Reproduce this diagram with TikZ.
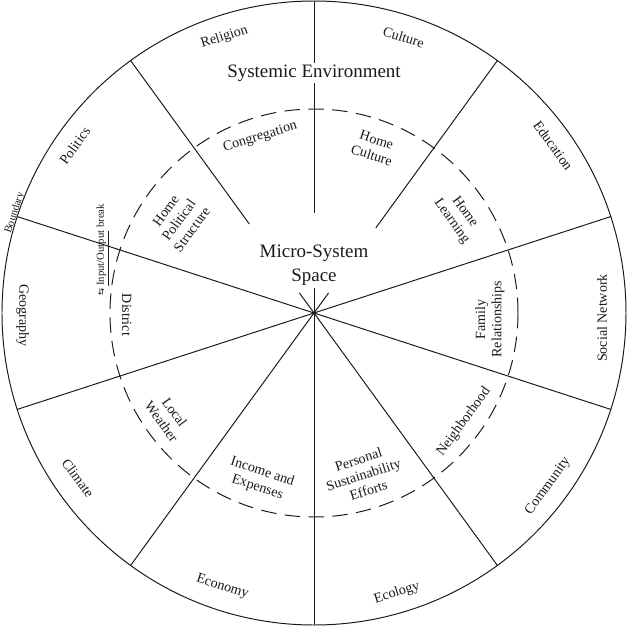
\documentclass[tikz,border=0pt]{standalone}
\usepackage{fontspec}
\setmainfont{Liberation Serif}
\newfontfamily\arrowfont{DejaVu Sans}
\definecolor{WheelInk}{HTML}{1A1A1A}

\begin{document}
\begin{tikzpicture}[
    spoke/.style={draw=WheelInk,line width=0.7pt},
    outerlbl/.style={text=WheelInk,font=\fontsize{10}{12}\selectfont,align=center},
    innerlbl/.style={text=WheelInk,font=\fontsize{10}{11.5}\selectfont,align=center},
    titlelbl/.style={text=WheelInk,font=\fontsize{13.5}{17}\selectfont,align=center},
    smalllbl/.style={text=WheelInk,font=\fontsize{7.6}{9}\selectfont,inner sep=1pt}
  ]
  \useasboundingbox (-7.85,-8.1) rectangle (8.0,7.825);

  % rim and dashed micro-system boundary
  \coordinate (hub) at (0,0);
  \node[circle,draw=WheelInk,line width=0.7pt,minimum size=15.6cm,inner sep=0pt] (rim) at (hub) {};
  \node[circle,draw=WheelInk,line width=0.7pt,dash pattern=on 11pt off 6pt,
        minimum size=10.2cm,inner sep=0pt] (micro) at (hub) {};

  % spokes
  \foreach \a in {18,162,198,234,270,306,342}
    \draw[spoke] (hub) -- (rim.\a);
  \foreach \a/\r in {54/2.63,90/2.5,126/2.75}{
    \draw[spoke] (rim.\a) -- (\a:\r);
    \draw[spoke] (\a:0.62) -- (hub);
  }

  % titles
  \node[titlelbl,fill=white,inner sep=1pt] (systemic) at (0,6.0) {Systemic Environment};
  \node[titlelbl] (space) at (0,1.2) {Micro-System\\Space};

  % outer ring
  \node[outerlbl,rotate=18]  (religion)  at (108:7.25) {Religion};
  \node[outerlbl,rotate=-18] (culture)   at (72:7.25)  {Culture};
  \node[outerlbl,rotate=-54] (education) at (35:7.3)   {Education};
  \node[outerlbl,rotate=90]  (social)    at (-1:7.2)   {Social Network};
  \node[outerlbl,rotate=54]  (community) at (-36.5:7.28) {Community};
  \node[outerlbl,rotate=18]  (ecology)   at (-73.5:7.3) {Ecology};
  \node[outerlbl,rotate=-18] (economy)   at (251.5:7.22) {Economy};
  \node[outerlbl,rotate=-54] (climate)   at (215:7.2)  {Climate};
  \node[outerlbl,rotate=-90] (geography) at (180.5:7.28) {Geography};
  \node[outerlbl,rotate=54]  (politics)  at (145:7.3)  {Politics};

  % inner ring
  \node[innerlbl,rotate=17]  (congregation) at (107:4.6)  {Congregation};
  \node[innerlbl,rotate=-18] (homeculture)  at (70:4.4)   {Home\\Culture};
  \node[innerlbl,rotate=-54] (homelearning) at (33.7:4.33) {Home\\Learning};
  \node[innerlbl,rotate=90]  (family)       at (-2:4.4)   {Family\\Relationships};
  \node[innerlbl,rotate=54]  (neighborhood) at (-36:4.63) {Neighborhood};
  \node[innerlbl,rotate=18]  (personal)     at (-73:4.23) {Personal\\Sustainability\\Efforts};
  \node[innerlbl,rotate=-18] (income)       at (252:4.38) {Income and\\Expenses};
  \node[innerlbl,rotate=-54] (weather)      at (215.5:4.48) {Local\\Weather};
  \node[innerlbl,rotate=-90] (district)     at (180.6:4.68) {District};
  \node[innerlbl,rotate=54]  (homepolitical) at (145.5:4.1) {Home\\Political\\Structure};

  % small notes
  \node[smalllbl,rotate=72] (boundary) at (-7.48,2.5) {Boundary};
  \node[smalllbl,rotate=90] (iobreak) at (-5.28,1.58)
       {{\arrowfont\fontsize{6}{7}\selectfont ⇆} \underline{Input/Output} break};
\end{tikzpicture}
\end{document}
